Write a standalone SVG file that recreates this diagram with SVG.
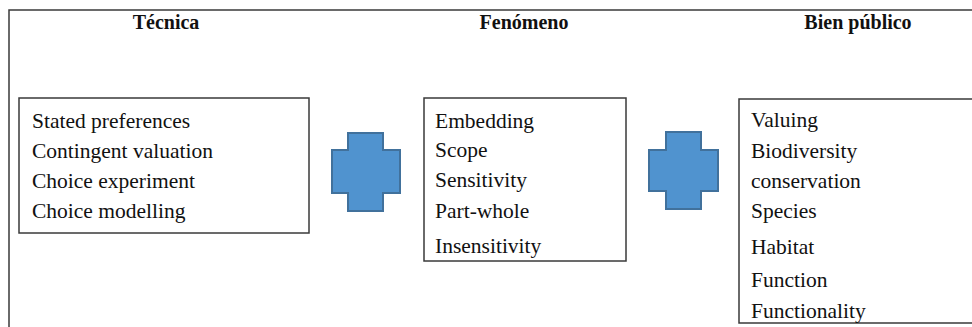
<svg xmlns="http://www.w3.org/2000/svg" width="972" height="327" viewBox="0 0 972 327">
<style>
.frame{fill:none;stroke:#3a3a3a;stroke-width:1.5}
.box{fill:#fff;stroke:#3a3a3a;stroke-width:1.5}
.title{font-weight:bold;font-size:20px;fill:#111;text-anchor:middle}
.item{font-size:21.5px;fill:#111}
.plus{fill:#5093CF;stroke:#41719C;stroke-width:2}
</style>
<rect width="972" height="327" fill="#fff"/>
<path class="frame" d="M9,327 V10 H972"/>
<g font-family="Liberation Serif, Tinos, Times New Roman, DejaVu Serif, serif">
<g id="title-tecnica"><text class="title" x="166" y="29">Técnica</text></g>
<g id="title-fenomeno"><text class="title" x="524" y="29">Fenómeno</text></g>
<g id="title-bien"><text class="title" x="858" y="29">Bien público</text></g>
<g id="box-tecnica">
<rect class="box" x="19" y="98" width="290" height="135"/>
<text class="item" x="32" y="128">Stated preferences</text>
<text class="item" x="32" y="158">Contingent valuation</text>
<text class="item" x="32" y="188">Choice experiment</text>
<text class="item" x="32" y="218">Choice modelling</text>
</g>
<g id="box-fenomeno">
<rect class="box" x="424" y="98" width="202" height="163"/>
<text class="item" x="435" y="128">Embedding</text>
<text class="item" x="435" y="157">Scope</text>
<text class="item" x="435" y="187">Sensitivity</text>
<text class="item" x="435" y="218">Part-whole</text>
<text class="item" x="435" y="253">Insensitivity</text>
</g>
<g id="box-bien">
<path class="box" d="M980,99 H739 V323 H980"/>
<text class="item" x="751" y="127">Valuing</text>
<text class="item" x="751" y="158">Biodiversity</text>
<text class="item" x="751" y="188">conservation</text>
<text class="item" x="751" y="218">Species</text>
<text class="item" x="751" y="254">Habitat</text>
<text class="item" x="751" y="287">Function</text>
<text class="item" x="751" y="318">Functionality</text>
</g>
</g>
<g id="connectors">
<g id="plus-1"><path class="plus" d="M348,133 H383 V150 H400 V193 H383 V211 H348 V193 H332 V150 H348 Z"/></g>
<g id="plus-2"><path class="plus" d="M666,132 H701 V150 H718 V191 H701 V209 H666 V191 H649 V150 H666 Z"/></g>
</g>
</svg>
